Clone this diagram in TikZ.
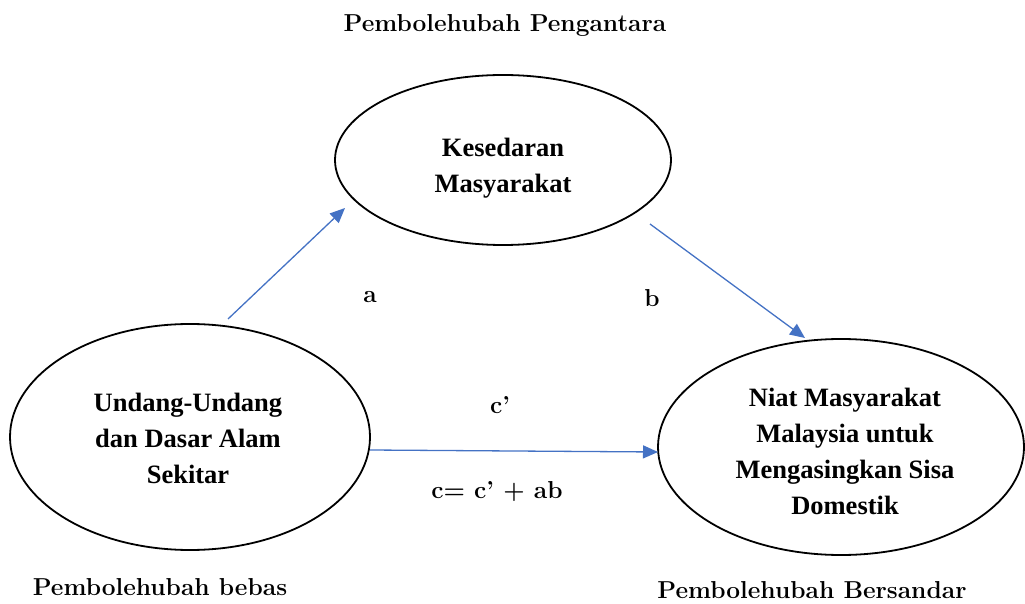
\documentclass[tikz,border=0pt]{standalone}
\usepackage{fontspec}
\newfontfamily\tnr{Liberation Serif}
\usetikzlibrary{arrows.meta,shapes.geometric}
\definecolor{arrowblue}{HTML}{4472C4}
\tikzset{
  ell/.style={draw=black, line width=1.8pt, ellipse, inner sep=0pt},
  intext/.style={align=center, font=\tnr\bfseries\fontsize{26.5}{36}\selectfont},
  gar/.style={font=\bfseries\fontsize{24.5}{30}\selectfont, inner sep=0pt},
  conn/.style={draw=arrowblue, line width=1.3pt, -{Triangle[length=15pt,width=13pt]}}
}
\begin{document}
\begin{tikzpicture}[x=1pt,y=1pt]
\useasboundingbox (0,0) rectangle (1025,603);
% ellipses
\node[ell, minimum width=336pt, minimum height=170pt] (med) at (503,443) {};
\node[ell, minimum width=360pt, minimum height=226pt] (iv) at (190,166) {};
\node[ell, minimum width=366pt, minimum height=216pt] (dv) at (841,156) {};
% ellipse texts
\node[intext] (medt) at (503,435) {Kesedaran\\Masyarakat};
\node[intext] (ivt) at (188,165) {Undang-Undang\\dan Dasar Alam\\Sekitar};
\node[intext] (dvt) at (845,152) {Niat Masyarakat\\Malaysia untuk\\Mengasingkan Sisa\\Domestik};
% connector ends
\coordinate (a1) at (228,284);
\coordinate (a2) at (345,395);
\coordinate (b1) at (650,379);
\coordinate (b2) at (805,265);
\coordinate (c1) at (370,153);
\coordinate (c2) at (658,151);
\draw[conn] (a1) -- (a2);
\draw[conn] (b1) -- (b2);
\draw[conn] (c1) -- (c2);
% labels
\node[gar] (la) at (370,306) {a};
\node[gar] (lb) at (652,305) {b};
\node[gar] (lc) at (500,198) {c’};
\node[gar] (lcc) at (497,111) {c= c’ + ab};
\node[gar] (title) at (505,578) {Pembolehubah Pengantara};
\node[gar] (bebas) at (160,16) {Pembolehubah bebas};
\node[gar] (bers) at (812,13) {Pembolehubah Bersandar};
\end{tikzpicture}
\end{document}
